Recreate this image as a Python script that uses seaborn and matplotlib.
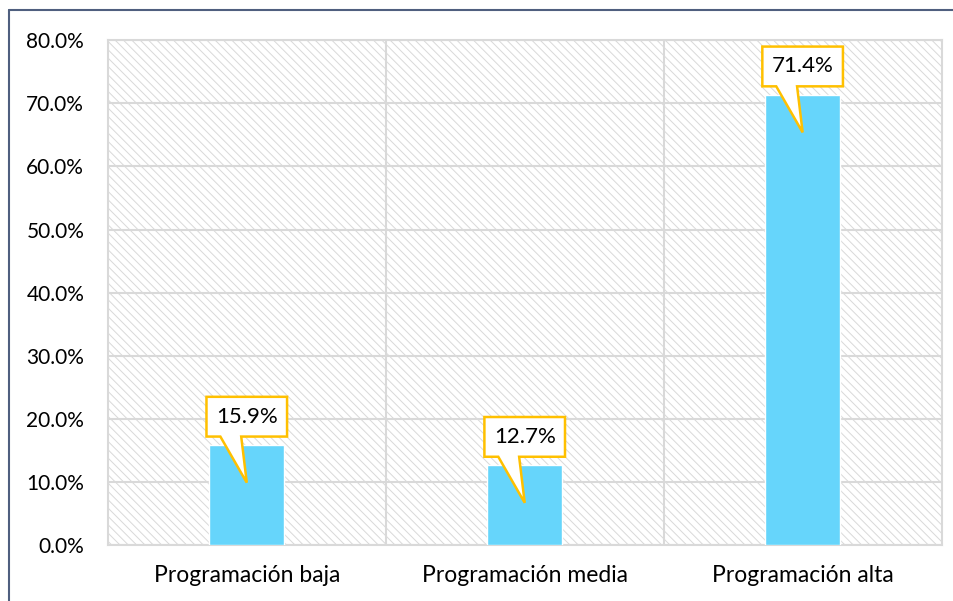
import matplotlib
matplotlib.use('Agg')
import matplotlib.pyplot as plt
import seaborn as sns
import pandas as pd
from matplotlib.patches import Rectangle, Polygon
from matplotlib.lines import Line2D
from matplotlib.ticker import PercentFormatter, FixedLocator

# data
categories = ['Programación baja', 'Programación media', 'Programación alta']
values = [0.159, 0.127, 0.714]
labels = ['15.9%', '12.7%', '71.4%']

df = pd.DataFrame({'cat': categories, 'val': values})

sns.set_theme(style='white')
plt.rcParams['font.family'] = ['Lato', 'DejaVu Sans']
plt.rcParams['hatch.linewidth'] = 0.7

fig = plt.figure(figsize=(9.54, 6.01), dpi=100)
ax = fig.add_axes([0.113, 0.093, 0.874, 0.840])

# hatched plot background
bg = Rectangle((0, 0), 1, 1, transform=ax.transAxes, facecolor='white',
               edgecolor='#d9d9d9', hatch='\\\\\\\\', linewidth=0, zorder=0)
ax.add_patch(bg)

sns.barplot(data=df, x='cat', y='val', color='#66D5FB', saturation=1,
            width=0.27, ax=ax, zorder=3)

ax.set_ylim(0, 0.8)
ax.set_xlim(-0.5, 2.5)
ax.set_yticks([i / 10 for i in range(9)])
ax.yaxis.set_major_formatter(PercentFormatter(1, decimals=1))
ax.xaxis.set_minor_locator(FixedLocator([0.5, 1.5]))
ax.grid(axis='y', which='major', color='#d9d9d9', linewidth=1.5, zorder=1)
ax.grid(axis='x', which='minor', color='#d9d9d9', linewidth=1.5, zorder=1)
ax.set_axisbelow(True)
for s in ax.spines.values():
    s.set_color('#d9d9d9')
    s.set_linewidth(1.5)
ax.set_xlabel('')
ax.set_ylabel('')
ax.tick_params(axis='both', which='both', length=0, colors='black')
ax.tick_params(axis='x', labelsize=16.5, pad=14)
ax.tick_params(axis='y', labelsize=15, pad=17)

# callout labels
for i, (v, lab) in enumerate(zip(values, labels)):
    x0, x1 = i - 0.145, i + 0.145
    yb = v + 0.013
    yt = yb + 0.063
    pts = [(x0, yb), (x0, yt), (x1, yt), (x1, yb),
           (i - 0.02, yb), (i, v - 0.06), (i - 0.095, yb)]
    ax.add_patch(Polygon(pts, closed=True, facecolor='white',
                         edgecolor='#FFC000', linewidth=1.8, zorder=5))
    ax.text(i, (yb + yt) / 2, lab, ha='center', va='center',
            fontsize=16, color='black', zorder=6)

# outer chart frame (cropped on right and bottom)
fig.add_artist(Line2D([0.0094, 1.0], [1 - 10 / 601, 1 - 10 / 601],
                      transform=fig.transFigure, color='#4F5F7F', linewidth=1.5))
fig.add_artist(Line2D([0.0094, 0.0094], [0.0, 1 - 10 / 601],
                      transform=fig.transFigure, color='#4F5F7F', linewidth=1.5))

fig.savefig('out.png', dpi=100)
